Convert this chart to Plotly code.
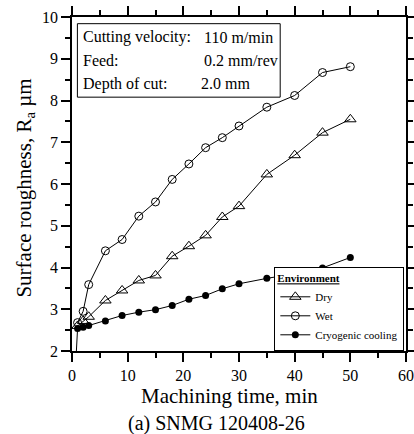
import plotly.graph_objects as go

# ---- data ----
time = [1, 2, 3, 6, 9, 12, 15, 18, 21, 24, 27, 30, 35, 40, 45, 50]
dry = [2.60, 2.72, 2.82, 3.21, 3.45, 3.69, 3.81, 4.27, 4.51, 4.77, 5.21, 5.47, 6.23, 6.69, 7.23, 7.55]
wet = [2.68, 2.95, 3.59, 4.40, 4.67, 5.23, 5.57, 6.11, 6.48, 6.87, 7.11, 7.39, 7.84, 8.12, 8.67, 8.81]
cryo_time = [0, 1, 2, 3, 6, 9, 12, 15, 18, 21, 24, 27, 30, 35, 40, 45, 50]
cryo = [0.0, 2.54, 2.57, 2.61, 2.72, 2.85, 2.93, 2.99, 3.09, 3.24, 3.33, 3.49, 3.61, 3.74, 3.85, 3.99, 4.24]

x_ticks = [0, 10, 20, 30, 40, 50, 60]
y_ticks = [2, 3, 4, 5, 6, 7, 8, 9, 10]

cond_labels = ["Cutting velocity:", "Feed:", "Depth of cut:"]
cond_values = ["110 m/min", "0.2 mm/rev", "2.0 mm"]

FONT = "Liberation Serif"

fig = go.Figure()
fig.add_trace(go.Scatter(
    x=time, y=dry, name="Dry", mode="lines+markers",
    line=dict(color="black", width=1),
    marker=dict(symbol="triangle-up-open", size=10, color="black", line=dict(width=1)),
))
fig.add_trace(go.Scatter(
    x=time, y=wet, name="Wet", mode="lines+markers",
    line=dict(color="black", width=1),
    marker=dict(symbol="circle-open", size=8, color="black", line=dict(width=1)),
))
fig.add_trace(go.Scatter(
    x=cryo_time, y=cryo, name="Cryogenic cooling", mode="lines+markers",
    line=dict(color="black", width=1),
    marker=dict(symbol="circle", size=7, color="black"),
))

axis_common = dict(
    showline=True, linecolor="black", linewidth=1.5, mirror="allticks",
    ticks="outside", ticklen=9, tickwidth=1.5, tickcolor="black",
    showgrid=False, zeroline=False, automargin=False,
    tickfont=dict(family=FONT, size=16, color="black"),
)
fig.update_xaxes(range=[0, 60], tickvals=x_ticks,
                 minor=dict(dtick=5, ticks="outside", ticklen=5, tickwidth=1.5, tickcolor="black"),
                 **axis_common)
fig.update_yaxes(range=[2, 10], tickvals=y_ticks,
                 minor=dict(dtick=0.5, ticks="outside", ticklen=5, tickwidth=1.5, tickcolor="black"),
                 **axis_common)

# conditions box
fig.add_shape(type="rect", xref="x", yref="y", x0=0.97, x1=37.4, y0=8.08, y1=9.84,
              line=dict(color="black", width=1), fillcolor="white", layer="above")
rows_y = [9.52, 8.95, 8.40]
val_x = [23.35, 23.3, 22.8]
for lab, val, yy, vx in zip(cond_labels, cond_values, rows_y, val_x):
    fig.add_annotation(x=1.7, y=yy, xref="x", yref="y", text=lab, showarrow=False,
                       xanchor="left", yanchor="middle",
                       font=dict(family=FONT, size=16, color="black"))
    fig.add_annotation(x=vx, y=yy, xref="x", yref="y", text=val, showarrow=False,
                       xanchor="left", yanchor="middle",
                       font=dict(family=FONT, size=16, color="black"))

# axis titles and caption
fig.add_annotation(x=0.473, y=-0.135, xref="paper", yref="paper",
                   text="Machining time, min", showarrow=False,
                   xanchor="center", yanchor="middle",
                   font=dict(family=FONT, size=21, color="black"))
fig.add_annotation(x=0.434, y=-0.217, xref="paper", yref="paper",
                   text="(a) SNMG 120408-26", showarrow=False,
                   xanchor="center", yanchor="middle",
                   font=dict(family=FONT, size=20, color="black"))
fig.add_annotation(x=-0.142, y=0.488, xref="paper", yref="paper",
                   text="Surface roughness, R<sub>a</sub> µm", showarrow=False,
                   textangle=-90, xanchor="center", yanchor="middle",
                   font=dict(family=FONT, size=21, color="black"))

fig.update_layout(
    width=414, height=434,
    margin=dict(l=72, r=8, t=17, b=83),
    paper_bgcolor="white", plot_bgcolor="white",
    font=dict(family=FONT, color="black"),
    legend=dict(
        x=0.995, y=0.0, xanchor="right", yanchor="bottom",
        bgcolor="white", bordercolor="black", borderwidth=1,
        font=dict(family=FONT, size=11, color="black"),
        title=dict(text="<b><u>Environment</u></b>", font=dict(family=FONT, size=11, color="black")),
        tracegroupgap=0, itemwidth=30,
    ),
)

fig.write_html(
    "out.html",
    config={"displayModeBar": False},
    post_script="document.body.style.margin='0';document.body.style.overflow='hidden';",
)
